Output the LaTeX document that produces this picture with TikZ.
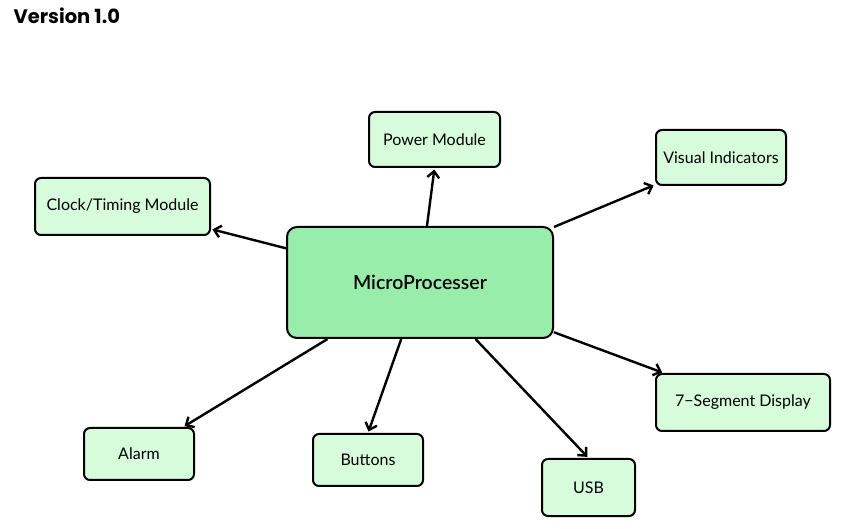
\documentclass[tikz,border=0pt]{standalone}
\usepackage{fontspec}
\setmainfont{Lato}
\newfontfamily\titlefont{Poppins}
\newfontfamily\mainfont{Lato Semibold}
\usetikzlibrary{arrows.meta,calc}
\definecolor{mainfill}{HTML}{98EDAA}
\definecolor{subfill}{HTML}{D6FCDB}
\tikzset{
  box/.style={draw=black, line width=2pt, rounded corners=6pt, fill=subfill,
    inner sep=0pt, font=\fontsize{16}{18}\selectfont},
  mainbox/.style={box, fill=mainfill, rounded corners=10pt, font=\mainfont\fontsize{19.5}{22}\selectfont},
  link/.style={line width=2.4pt, -{Straight Barb[length=6.5pt,width=12pt,line width=2.4pt]}, shorten >=1.5pt},
}
\begin{document}
\begin{tikzpicture}[x=1pt,y=-1pt]
\useasboundingbox (0,0) rectangle (855,529);
\node[anchor=west, font=\titlefont\bfseries\fontsize{19.5}{22}\selectfont] (title) at (10,16) {Version 1.0};
\node[mainbox, minimum width=266pt, minimum height=111pt] (mp) at (420,282.5) {MicroProcesser};
\node[box, minimum width=131pt, minimum height=55pt] (pw) at (434.5,139.5) {Power Module};
\node[box, minimum width=130pt, minimum height=55pt] (vi) at (721,157.5) {Visual Indicators};
\node[box, minimum width=175pt, minimum height=57pt] (ck) at (122.5,206.5) {Clock/Timing Module};
\node[box, minimum width=174pt, minimum height=57pt] (sg) at (743,402.5) {7−Segment Display};
\node[box, minimum width=110pt, minimum height=52pt] (al) at (139,454) {Alarm};
\node[box, minimum width=110pt, minimum height=52pt] (bt) at (368,460) {Buttons};
\node[box, minimum width=93pt, minimum height=57pt] (usb) at (588.5,487.5) {USB};
\draw[link] ($(mp.north west)!0.526!(mp.north east)$) -- (pw.south);
\draw[link] (mp) -- (vi);
\draw[link] (mp) -- (ck);
\draw[link] (mp) -- (sg);
\draw[link] (mp) -- (al);
\draw[link] ($(mp.south west)!0.43!(mp.south east)$) -- (bt.north);
\draw[link] ($(mp.south west)!0.707!(mp.south east)$) -- (usb.north);
\end{tikzpicture}
\end{document}
